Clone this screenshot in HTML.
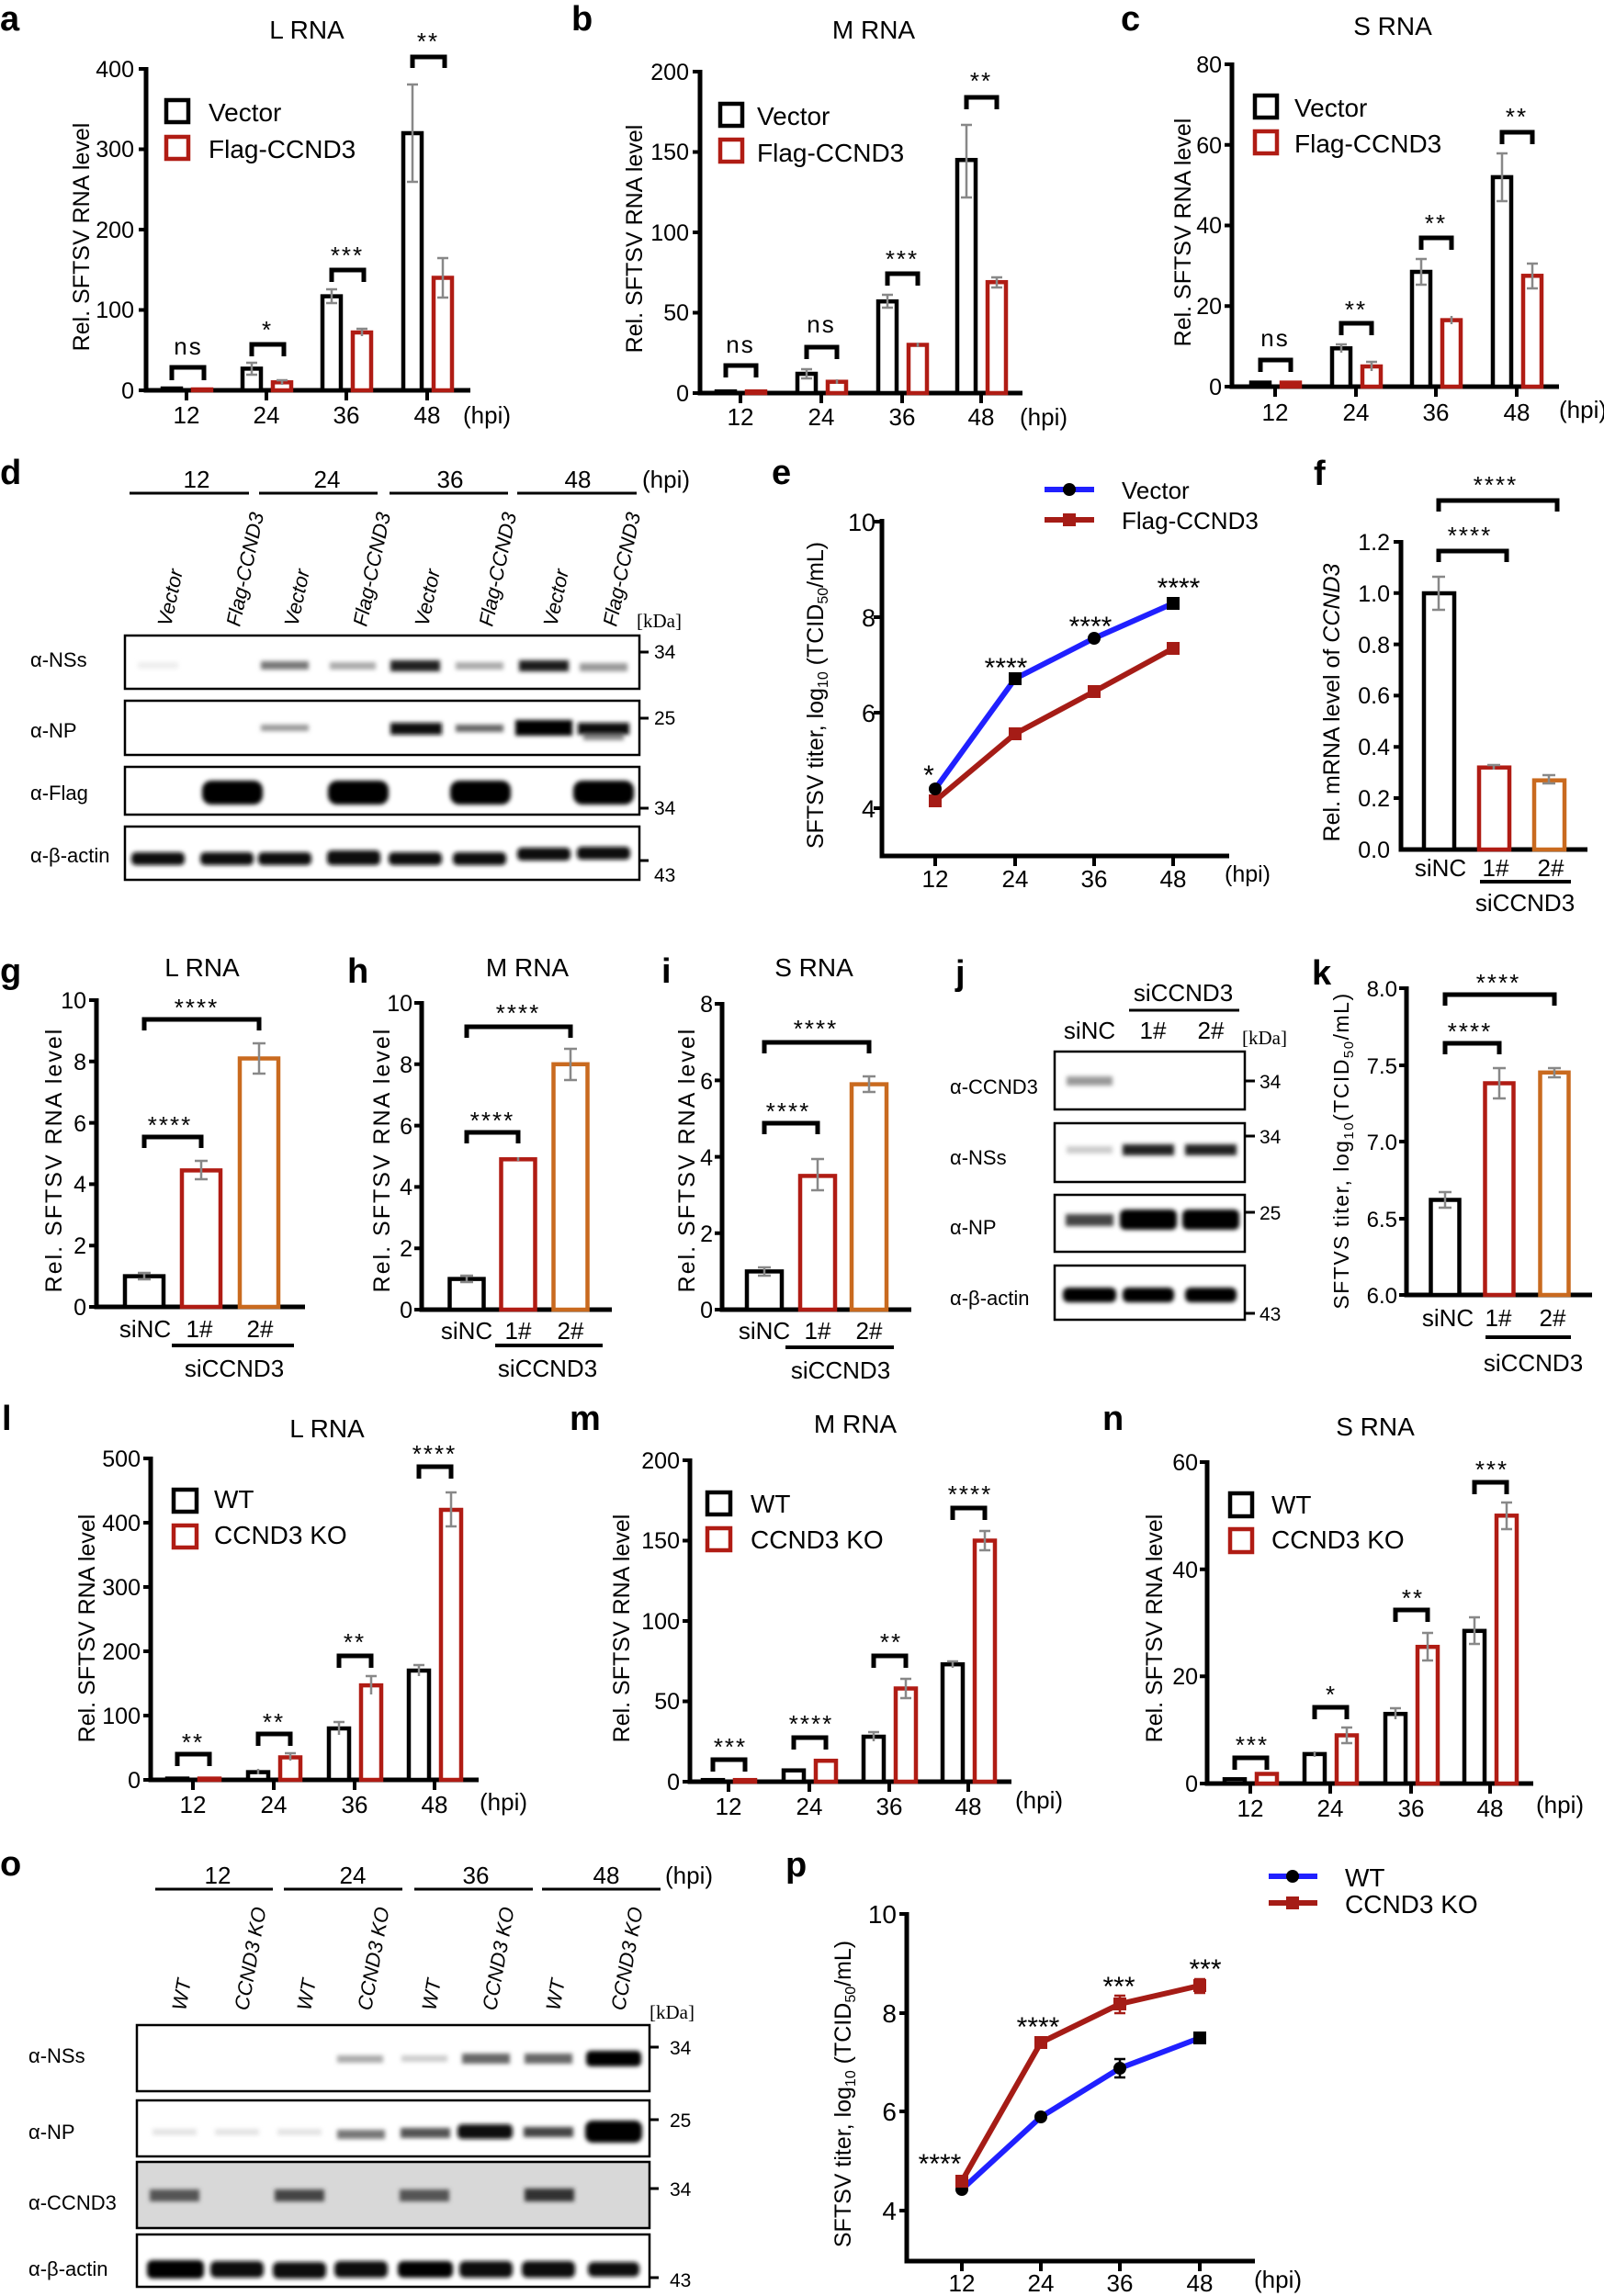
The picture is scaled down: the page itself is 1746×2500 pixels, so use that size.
<!DOCTYPE html>
<html><head><meta charset="utf-8"><style>
html,body{margin:0;padding:0;background:#fff}
svg{display:block}
text{font-family:"Liberation Sans",sans-serif;fill:#000}
.n{font-family:"Liberation Sans Narrow","Liberation Sans",sans-serif}
.s{font-family:"Liberation Serif",serif;font-size:21px}
.L{font-weight:bold;font-size:38px}
.ax{stroke:#000;stroke-width:5;fill:none}
.tk{stroke:#000;stroke-width:4;fill:none}
.bk{fill:#fff;stroke:#000;stroke-width:4.5}
.rd{fill:#fff;stroke:#b01c14;stroke-width:4.5}
.or{fill:#fff;stroke:#c96a1f;stroke-width:4.5}
.er{stroke:#888;stroke-width:2.5;fill:none}
.br{stroke:#000;stroke-width:5;fill:none}
.box{fill:#fff;stroke:#000;stroke-width:2.5}
.t22{font-size:25px}.t24{font-size:26px}.t26{font-size:28px}
.st{font-size:26px;letter-spacing:2px}
.lg{font-size:28px}
.lane{font-size:22px;font-style:italic}
.wl{font-size:22px}
</style></head><body>
<svg width="1746" height="2500" viewBox="0 0 1746 2500" xmlns="http://www.w3.org/2000/svg">
<defs><filter id="bl" x="-30%" y="-100%" width="160%" height="300%"><feGaussianBlur stdDeviation="2.5"/></filter></defs>

<!-- ===== a ===== -->
<text class="L" x="0" y="33">a</text>
<text class="n t26" x="334" y="42" text-anchor="middle">L RNA</text>
<path class="ax" d="M159 73V425H512"/>
<path class="tk" d="M151 75H159M151 162.5H159M151 250H159M151 337.5H159M151 425H159M203 425V436M290 425V436M377 425V436M465 425V436"/>
<g class="n t22" text-anchor="end"><text x="146" y="84">400</text><text x="146" y="171">300</text><text x="146" y="259">200</text><text x="146" y="346">100</text><text x="146" y="434">0</text></g>
<g class="n t24" text-anchor="middle"><text x="203" y="461">12</text><text x="290" y="461">24</text><text x="377" y="461">36</text><text x="465" y="461">48</text></g>
<text class="n t24" x="504" y="461">(hpi)</text>
<rect class="bk" x="177" y="423" width="20" height="2"/><rect class="rd" x="210" y="424" width="20" height="1"/>
<rect class="bk" x="264" y="401.4" width="20" height="23.6"/><rect class="rd" x="297" y="416.3" width="20" height="8.7"/>
<rect class="bk" x="351" y="322.6" width="20" height="102.4"/><rect class="rd" x="384" y="362" width="20" height="63"/>
<rect class="bk" x="439" y="145" width="20" height="280"/><rect class="rd" x="472" y="302.5" width="20" height="122.5"/>
<path class="er" d="M274 395V408M268 395H280M268 408H280M307 414V419M301 414H313M361 315V330M355 315H367M355 330H367M394 358V366M388 358H400M449 92V198M443 92H455M443 198H455M482 281V324M476 281H488M476 324H488"/>
<path class="br" d="M187 414V400H222V414M274 388V375H309V388M361 307V294H396V307M449 74V62H484V74"/>
<g class="st" text-anchor="middle"><text x="205" y="386" class="n">ns</text><text x="291" y="368">*</text><text x="378" y="287">***</text><text x="466" y="54">**</text></g>
<rect class="bk" x="181" y="109" width="24" height="24"/><rect class="rd" x="181" y="149" width="24" height="24"/>
<text class="n lg" x="227" y="132">Vector</text><text class="n lg" x="227" y="172">Flag-CCND3</text>
<text class="t22" transform="translate(97,258) rotate(-90)" text-anchor="middle">Rel. SFTSV RNA level</text>

<!-- ===== b ===== -->
<text class="L" x="622" y="33">b</text>
<text class="n t26" x="951" y="42" text-anchor="middle">M RNA</text>
<path class="ax" d="M762 76V428H1113"/>
<path class="tk" d="M754 78H762M754 165.5H762M754 253H762M754 340.5H762M754 428H762M806 428V439M894 428V439M982 428V439M1068 428V439"/>
<g class="n t22" text-anchor="end"><text x="750" y="87">200</text><text x="750" y="174">150</text><text x="750" y="262">100</text><text x="750" y="349">50</text><text x="750" y="437">0</text></g>
<g class="n t24" text-anchor="middle"><text x="806" y="463">12</text><text x="894" y="463">24</text><text x="982" y="463">36</text><text x="1068" y="463">48</text></g>
<text class="n t24" x="1110" y="463">(hpi)</text>
<rect class="bk" x="780" y="426.2" width="20" height="1.8"/><rect class="rd" x="813" y="426.2" width="20" height="1.8"/>
<rect class="bk" x="868" y="407" width="20" height="21"/><rect class="rd" x="901" y="415.7" width="20" height="12.3"/>
<rect class="bk" x="956" y="328.2" width="20" height="99.8"/><rect class="rd" x="989" y="375.5" width="20" height="52.5"/>
<rect class="bk" x="1042" y="174.2" width="20" height="253.8"/><rect class="rd" x="1075" y="307.2" width="20" height="120.8"/>
<path class="er" d="M878 402V412M872 402H884M872 412H884M911 413V418M966 321V335M960 321H972M960 335H972M999 373V378M1052 136V215M1046 136H1058M1046 215H1058M1085 302V313M1079 302H1091M1079 313H1091"/>
<path class="br" d="M790 411V398H823V411M878 391V378H911V391M966 311V298H999V311M1052 119V106H1085V119"/>
<g class="st" text-anchor="middle"><text x="806" y="384" class="n">ns</text><text x="894" y="362" class="n">ns</text><text x="982" y="291">***</text><text x="1068" y="97">**</text></g>
<rect class="bk" x="784" y="113" width="24" height="24"/><rect class="rd" x="784" y="152" width="24" height="24"/>
<text class="n lg" x="824" y="136">Vector</text><text class="n lg" x="824" y="176">Flag-CCND3</text>
<text class="t22" transform="translate(699,260) rotate(-90)" text-anchor="middle">Rel. SFTSV RNA level</text>

<!-- ===== c ===== -->
<text class="L" x="1220" y="33">c</text>
<text class="n t26" x="1516" y="38" text-anchor="middle">S RNA</text>
<path class="ax" d="M1341 68V421H1697"/>
<path class="tk" d="M1333 70H1341M1333 157.75H1341M1333 245.5H1341M1333 333.25H1341M1333 421H1341M1388 421V432M1476 421V432M1563 421V432M1651 421V432"/>
<g class="n t22" text-anchor="end"><text x="1330" y="79">80</text><text x="1330" y="167">60</text><text x="1330" y="254">40</text><text x="1330" y="342">20</text><text x="1330" y="430">0</text></g>
<g class="n t24" text-anchor="middle"><text x="1388" y="458">12</text><text x="1476" y="458">24</text><text x="1563" y="458">36</text><text x="1651" y="458">48</text></g>
<text class="n t24" x="1697" y="455">(hpi)</text>
<rect class="bk" x="1362" y="416.6" width="20" height="4.4"/><rect class="rd" x="1395" y="416.6" width="20" height="4.4"/>
<rect class="bk" x="1450" y="379.3" width="20" height="41.7"/><rect class="rd" x="1483" y="399" width="20" height="22"/>
<rect class="bk" x="1537" y="296" width="20" height="125"/><rect class="rd" x="1570" y="348.6" width="20" height="72.4"/>
<rect class="bk" x="1625" y="192.9" width="20" height="228.1"/><rect class="rd" x="1658" y="300.3" width="20" height="120.7"/>
<path class="er" d="M1460 375V384M1454 375H1466M1493 394V404M1487 394H1499M1547 282V310M1541 282H1553M1541 310H1553M1580 344V353M1635 167V219M1629 167H1641M1629 219H1641M1668 287V314M1662 287H1674M1662 314H1674"/>
<path class="br" d="M1372 405V392H1405V405M1460 365V352H1493V365M1547 272V259H1580V272M1635 157V144H1668V157"/>
<g class="st" text-anchor="middle"><text x="1388" y="377" class="n">ns</text><text x="1476" y="346">**</text><text x="1563" y="252">**</text><text x="1651" y="136">**</text></g>
<rect class="bk" x="1366" y="104" width="24" height="24"/><rect class="rd" x="1366" y="143" width="24" height="24"/>
<text class="n lg" x="1409" y="127">Vector</text><text class="n lg" x="1409" y="166">Flag-CCND3</text>
<text class="t22" transform="translate(1296,253) rotate(-90)" text-anchor="middle">Rel. SFTSV RNA level</text>

<!-- ===== d ===== -->
<text class="L" x="0" y="527">d</text>
<path d="M141 537H271M282 537H411M424 537H553M563 537H693" stroke="#000" stroke-width="3"/>
<g class="n t24" text-anchor="middle"><text x="214" y="531">12</text><text x="356" y="531">24</text><text x="490" y="531">36</text><text x="629" y="531">48</text></g>
<text class="n t24" x="699" y="531">(hpi)</text>
<g class="lane">
<text transform="translate(186,683) rotate(-78)">Vector</text>
<text transform="translate(261,683) rotate(-78)">Flag-CCND3</text>
<text transform="translate(324,683) rotate(-78)">Vector</text>
<text transform="translate(399,683) rotate(-78)">Flag-CCND3</text>
<text transform="translate(466,683) rotate(-78)">Vector</text>
<text transform="translate(536,683) rotate(-78)">Flag-CCND3</text>
<text transform="translate(606,683) rotate(-78)">Vector</text>
<text transform="translate(671,683) rotate(-78)">Flag-CCND3</text>
</g>
<rect class="box" x="136" y="692" width="560" height="58"/>
<rect class="box" x="136" y="763" width="560" height="59"/>
<rect class="box" x="136" y="835" width="560" height="52"/>
<rect class="box" x="136" y="900" width="560" height="58"/>
<g filter="url(#bl)">
<rect x="150" y="721" width="44" height="7" fill="#eee"/>
<rect x="284" y="720" width="52" height="9" fill="#777"/>
<rect x="359" y="721" width="50" height="8" fill="#aaa"/>
<rect x="425" y="719" width="54" height="12" fill="#222"/>
<rect x="496" y="721" width="52" height="8" fill="#aaa"/>
<rect x="565" y="719" width="54" height="12" fill="#1a1a1a"/>
<rect x="631" y="722" width="52" height="9" fill="#999"/>
<rect x="284" y="789" width="52" height="7" fill="#999"/>
<rect x="425" y="787" width="56" height="13" fill="#111"/>
<rect x="496" y="789" width="52" height="8" fill="#666"/>
<rect x="561" y="784" width="62" height="17" fill="#000"/>
<rect x="629" y="787" width="56" height="13" fill="#111"/>
<rect x="635" y="800" width="44" height="6" fill="#888"/>
<rect x="220" y="850" width="66" height="26" rx="10" fill="#000"/>
<rect x="357" y="850" width="66" height="26" rx="10" fill="#000"/>
<rect x="490" y="850" width="66" height="26" rx="10" fill="#000"/>
<rect x="624" y="850" width="66" height="26" rx="10" fill="#000"/>
<rect x="143" y="928" width="58" height="14" rx="5" fill="#111"/>
<rect x="218" y="928" width="58" height="14" rx="5" fill="#111"/>
<rect x="281" y="928" width="58" height="14" rx="5" fill="#111"/>
<rect x="356" y="926" width="58" height="16" rx="5" fill="#111"/>
<rect x="423" y="928" width="58" height="14" rx="5" fill="#111"/>
<rect x="493" y="928" width="58" height="14" rx="5" fill="#111"/>
<rect x="563" y="923" width="58" height="14" rx="5" fill="#111"/>
<rect x="628" y="922" width="58" height="14" rx="5" fill="#111"/>
</g>
<g class="wl"><text x="33" y="726">α-NSs</text><text x="33" y="803">α-NP</text><text x="33" y="871">α-Flag</text><text x="33" y="939">α-β-actin</text></g>
<text class="s" x="693" y="683">[kDa]</text>
<path d="M696 710H706M696 782H706M696 880H706M696 937H706" stroke="#000" stroke-width="3"/>
<g class="s"><text x="712" y="717">34</text><text x="712" y="789">25</text><text x="712" y="887">34</text><text x="712" y="960">43</text></g>

<!-- ===== e ===== -->
<text class="L" x="840" y="527">e</text>
<path class="ax" d="M960 565V932H1338"/>
<path class="tk" d="M951 568H960M951 672H960M951 776H960M951 880H960M1018 932V943M1105 932V943M1191 932V943M1277 932V943"/>
<g font-size="27" text-anchor="end"><text x="953" y="578">10</text><text x="953" y="682">8</text><text x="953" y="786">6</text><text x="953" y="890">4</text></g>
<g font-size="26" text-anchor="middle"><text x="1018" y="966">12</text><text x="1105" y="966">24</text><text x="1191" y="966">36</text><text x="1277" y="966">48</text></g>
<text font-size="25" x="1333" y="960">(hpi)</text>
<polyline points="1018,872 1105,799 1191,753 1277,706" fill="none" stroke="#a51c16" stroke-width="6"/>
<polyline points="1018,859 1105,739 1191,695 1277,657" fill="none" stroke="#2020ff" stroke-width="6"/>
<g fill="#a51c16"><rect x="1011" y="865" width="14" height="14"/><rect x="1098" y="792" width="14" height="14"/><rect x="1184" y="746" width="14" height="14"/><rect x="1270" y="699" width="14" height="14"/></g>
<circle cx="1018" cy="859" r="7"/><rect x="1098" y="732" width="14" height="14"/><circle cx="1191" cy="695" r="7"/><rect x="1270" y="650" width="14" height="14"/>
<g font-size="30" text-anchor="middle"><text x="1011" y="854">*</text><text x="1095" y="737">****</text><text x="1187" y="692">****</text><text x="1283" y="650">****</text></g>
<path d="M1137 533H1191" stroke="#2020ff" stroke-width="6"/><circle cx="1164" cy="533" r="7"/>
<path d="M1137 566H1191" stroke="#a51c16" stroke-width="6"/><rect x="1157" y="559" width="14" height="14" fill="#a51c16"/>
<text font-size="26" x="1221" y="543">Vector</text><text font-size="26" x="1221" y="576">Flag-CCND3</text>
<text font-size="25" transform="translate(896,757) rotate(-90)" text-anchor="middle">SFTSV titer, log<tspan font-size="16" dy="5">10</tspan><tspan dy="-5"> (TCID</tspan><tspan font-size="16" dy="5">50</tspan><tspan dy="-5">/mL)</tspan></text>

<!-- ===== f ===== -->
<text class="L" x="1430" y="528">f</text>
<path class="ax" d="M1525 588V925H1728"/>
<path class="tk" d="M1517 590H1525M1517 645.8H1525M1517 701.6H1525M1517 757.4H1525M1517 813.2H1525M1517 869H1525"/>
<g font-size="25" text-anchor="end"><text x="1513" y="599">1.2</text><text x="1513" y="655">1.0</text><text x="1513" y="711">0.8</text><text x="1513" y="766">0.6</text><text x="1513" y="822">0.4</text><text x="1513" y="878">0.2</text><text x="1513" y="934">0.0</text></g>
<rect class="bk" x="1550" y="646" width="33" height="279"/>
<rect class="rd" x="1610" y="835.7" width="33" height="89.3"/>
<rect class="or" x="1670" y="849.7" width="33" height="75.3"/>
<path class="er" d="M1566 628V664M1559 628H1573M1559 664H1573M1626 833V838M1619 833H1633M1686 844V853M1679 844H1693M1679 853H1693"/>
<path class="br" d="M1566 612V600H1640V612M1566 557V545H1695V557"/>
<g class="st" text-anchor="middle" letter-spacing="4"><text x="1600" y="592">****</text><text x="1628" y="537">****</text></g>
<g font-size="26" text-anchor="middle"><text x="1568" y="954">siNC</text><text x="1628" y="954">1#</text><text x="1688" y="954">2#</text><text x="1660" y="992">siCCND3</text></g>
<path d="M1611 960H1710" stroke="#000" stroke-width="4"/>
<text font-size="25" transform="translate(1458,765) rotate(-90)" text-anchor="middle">Rel. mRNA level of <tspan font-style="italic">CCND3</tspan></text>

<!-- ===== g ===== -->
<text class="L" x="0" y="1070">g</text>
<text class="n t26" x="220" y="1063" text-anchor="middle">L RNA</text>
<path class="ax" d="M105 1087V1423H332"/>
<path class="tk" d="M97 1089H105M97 1155.8H105M97 1222.6H105M97 1289.4H105M97 1356.2H105M97 1423H105"/>
<g class="n t22" text-anchor="end"><text x="94" y="1098">10</text><text x="94" y="1165">8</text><text x="94" y="1232">6</text><text x="94" y="1298">4</text><text x="94" y="1365">2</text><text x="94" y="1432">0</text></g>
<rect class="bk" x="136" y="1389.6" width="42" height="33.4"/><rect class="rd" x="198" y="1274.4" width="42" height="148.6"/><rect class="or" x="261" y="1152.5" width="42" height="270.5"/>
<path class="er" d="M157 1386V1393M150 1386H164M150 1393H164M219 1264V1284M212 1264H226M212 1284H226M282 1136V1169M275 1136H289M275 1169H289"/>
<path class="br" d="M157 1250V1238H219V1250M157 1122V1110H282V1122"/>
<g class="st" text-anchor="middle" letter-spacing="4"><text x="185" y="1234">****</text><text x="214" y="1106">****</text></g>
<g class="n t24" text-anchor="middle"><text x="158" y="1456">siNC</text><text x="217" y="1456">1#</text><text x="283" y="1456">2#</text><text x="255" y="1499">siCCND3</text></g>
<path d="M187 1465H320" stroke="#000" stroke-width="4"/>
<text class="t22" transform="translate(67,1263) rotate(-90)" text-anchor="middle" letter-spacing="2">Rel. SFTSV RNA level</text>

<!-- ===== h ===== -->
<text class="L" x="378" y="1070">h</text>
<text class="n t26" x="574" y="1063" text-anchor="middle">M RNA</text>
<path class="ax" d="M459 1090V1426H666"/>
<path class="tk" d="M451 1092H459M451 1158.8H459M451 1225.6H459M451 1292.4H459M451 1359.2H459M451 1426H459"/>
<g class="n t22" text-anchor="end"><text x="449" y="1101">10</text><text x="449" y="1168">8</text><text x="449" y="1235">6</text><text x="449" y="1301">4</text><text x="449" y="1368">2</text><text x="449" y="1435">0</text></g>
<rect class="bk" x="489.5" y="1392.6" width="37" height="33.4"/><rect class="rd" x="545.5" y="1262.3" width="37" height="163.7"/><rect class="or" x="602.5" y="1158.8" width="37" height="267.2"/>
<path class="er" d="M508 1389V1396M501 1389H515M501 1396H515M564 1260V1264M621 1142V1176M614 1142H628M614 1176H628"/>
<path class="br" d="M508 1245V1233H564V1245M508 1130V1118H621V1130"/>
<g class="st" text-anchor="middle" letter-spacing="4"><text x="536" y="1229">****</text><text x="564" y="1112">****</text></g>
<g class="n t24" text-anchor="middle"><text x="508" y="1458">siNC</text><text x="564" y="1458">1#</text><text x="621" y="1458">2#</text><text x="596" y="1499">siCCND3</text></g>
<path d="M539 1465H656" stroke="#000" stroke-width="4"/>
<text class="t22" transform="translate(424,1263) rotate(-90)" text-anchor="middle" letter-spacing="2">Rel. SFTSV RNA level</text>

<!-- ===== i ===== -->
<text class="L" x="720" y="1070">i</text>
<text class="n t26" x="886" y="1063" text-anchor="middle">S RNA</text>
<path class="ax" d="M786 1091V1426H992"/>
<path class="tk" d="M778 1093H786M778 1176.4H786M778 1259.6H786M778 1342.8H786M778 1426H786"/>
<g class="n t22" text-anchor="end"><text x="776" y="1102">8</text><text x="776" y="1186">6</text><text x="776" y="1269">4</text><text x="776" y="1352">2</text><text x="776" y="1435">0</text></g>
<rect class="bk" x="813" y="1384.4" width="38" height="41.6"/><rect class="rd" x="871" y="1280.4" width="38" height="145.6"/><rect class="or" x="927" y="1180.6" width="38" height="245.4"/>
<path class="er" d="M832 1380V1389M825 1380H839M825 1389H839M890 1262V1296M883 1262H897M883 1296H897M946 1172V1189M939 1172H953M939 1189H953"/>
<path class="br" d="M832 1235V1223H890V1235M832 1147V1135H946V1147"/>
<g class="st" text-anchor="middle" letter-spacing="4"><text x="858" y="1219">****</text><text x="888" y="1129">****</text></g>
<g class="n t24" text-anchor="middle"><text x="832" y="1458">siNC</text><text x="890" y="1458">1#</text><text x="946" y="1458">2#</text><text x="915" y="1501">siCCND3</text></g>
<path d="M855 1467H973" stroke="#000" stroke-width="4"/>
<text class="t22" transform="translate(756,1263) rotate(-90)" text-anchor="middle" letter-spacing="2">Rel. SFTSV RNA level</text>

<!-- ===== j ===== -->
<text class="L" x="1040" y="1072">j</text>
<text class="n t24" x="1288" y="1090" text-anchor="middle">siCCND3</text>
<path d="M1229 1100H1349" stroke="#000" stroke-width="3"/>
<g class="n t24" text-anchor="middle"><text x="1186" y="1131">siNC</text><text x="1255" y="1131">1#</text><text x="1318" y="1131">2#</text></g>
<text class="s" font-size="22" x="1352" y="1137">[kDa]</text>
<rect class="box" x="1148" y="1145" width="207" height="63"/>
<rect class="box" x="1148" y="1223" width="207" height="64"/>
<rect class="box" x="1148" y="1301" width="207" height="62"/>
<rect class="box" x="1148" y="1378" width="207" height="59"/>
<g filter="url(#bl)">
<rect x="1161" y="1172" width="50" height="10" fill="#999"/>
<rect x="1161" y="1248" width="50" height="8" fill="#ccc"/>
<rect x="1222" y="1246" width="56" height="12" fill="#222"/>
<rect x="1290" y="1246" width="56" height="12" fill="#222"/>
<rect x="1160" y="1322" width="52" height="13" fill="#444"/>
<rect x="1219" y="1317" width="62" height="22" rx="6" fill="#000"/>
<rect x="1287" y="1317" width="62" height="22" rx="6" fill="#000"/>
<rect x="1157" y="1402" width="58" height="16" rx="6" fill="#000"/>
<rect x="1222" y="1402" width="56" height="16" rx="6" fill="#000"/>
<rect x="1290" y="1402" width="56" height="16" rx="6" fill="#000"/>
</g>
<g class="wl"><text x="1034" y="1191">α-CCND3</text><text x="1034" y="1268">α-NSs</text><text x="1034" y="1344">α-NP</text><text x="1034" y="1421">α-β-actin</text></g>
<path d="M1355 1177H1366M1355 1237H1366M1355 1320H1366M1355 1430H1366" stroke="#000" stroke-width="3"/>
<g class="s" font-size="22"><text x="1371" y="1185">34</text><text x="1371" y="1245">34</text><text x="1371" y="1328">25</text><text x="1371" y="1438">43</text></g>

<!-- ===== k ===== -->
<text class="L" x="1428" y="1072">k</text>
<path class="ax" d="M1531 1074V1410H1733"/>
<path class="tk" d="M1523 1076H1531M1523 1160H1531M1523 1243H1531M1523 1327H1531M1523 1410H1531"/>
<g font-size="24" text-anchor="end"><text x="1521" y="1085">8.0</text><text x="1521" y="1169">7.5</text><text x="1521" y="1252">7.0</text><text x="1521" y="1336">6.5</text><text x="1521" y="1419">6.0</text></g>
<rect class="bk" x="1557.5" y="1306.5" width="31" height="103.5"/><rect class="rd" x="1616.5" y="1179.5" width="31" height="230.5"/><rect class="or" x="1676.5" y="1167.8" width="31" height="242.2"/>
<path class="er" d="M1573 1298V1315M1566 1298H1580M1566 1315H1580M1632 1163V1196M1625 1163H1639M1625 1196H1639M1692 1163V1173M1685 1163H1699M1685 1173H1699"/>
<path class="br" d="M1573 1148V1136H1632V1148M1573 1095V1083H1692V1095"/>
<g class="st" text-anchor="middle" letter-spacing="4"><text x="1600" y="1132">****</text><text x="1631" y="1079">****</text></g>
<g class="n t24" text-anchor="middle"><text x="1576" y="1444">siNC</text><text x="1631" y="1444">1#</text><text x="1690" y="1444">2#</text><text x="1669" y="1493">siCCND3</text></g>
<path d="M1617 1456H1710" stroke="#000" stroke-width="4"/>
<text font-size="23" transform="translate(1468,1253) rotate(-90)" text-anchor="middle" letter-spacing="1.5">SFTVS titer, log<tspan font-size="15" dy="5">10</tspan><tspan dy="-5">(TCID</tspan><tspan font-size="15" dy="5">50</tspan><tspan dy="-5">/mL)</tspan></text>

<!-- ===== l ===== -->
<text class="L" x="2" y="1557">l</text>
<text class="n t26" x="356" y="1565" text-anchor="middle">L RNA</text>
<path class="ax" d="M164 1586V1938H521"/>
<path class="tk" d="M156 1588H164M156 1658H164M156 1728H164M156 1798H164M156 1868H164M156 1938H164M210 1938V1949M298 1938V1949M386 1938V1949M473 1938V1949"/>
<g class="n t22" text-anchor="end"><text x="153" y="1597">500</text><text x="153" y="1667">400</text><text x="153" y="1737">300</text><text x="153" y="1807">200</text><text x="153" y="1877">100</text><text x="153" y="1947">0</text></g>
<g class="n t24" text-anchor="middle"><text x="210" y="1974">12</text><text x="298" y="1974">24</text><text x="386" y="1974">36</text><text x="473" y="1974">48</text></g>
<text class="n t24" x="522" y="1971">(hpi)</text>
<rect class="bk" x="182" y="1936.6" width="22" height="1.4"/><rect class="rd" x="217" y="1936.6" width="22" height="1.4"/>
<rect class="bk" x="270" y="1929.6" width="22" height="8.4"/><rect class="rd" x="305" y="1913.5" width="22" height="24.5"/>
<rect class="bk" x="358" y="1882" width="22" height="56"/><rect class="rd" x="393" y="1835.1" width="22" height="102.9"/>
<rect class="bk" x="445" y="1819" width="22" height="119"/><rect class="rd" x="480" y="1644" width="22" height="294"/>
<path class="er" d="M281 1926V1932M369 1875V1889M363 1875H375M456 1813V1825M450 1813H462M316 1909V1917M310 1909H322M404 1825V1845M398 1825H410M491 1625V1662M485 1625H497M485 1662H497"/>
<path class="br" d="M193 1923V1910H228V1923M281 1901V1888H316V1901M369 1816V1803H404V1816M456 1610V1597H491V1610"/>
<g class="st" text-anchor="middle" letter-spacing="3"><text x="210" y="1906">**</text><text x="298" y="1884">**</text><text x="386" y="1797">**</text><text x="473" y="1592">****</text></g>
<rect class="bk" x="189" y="1622" width="25" height="24"/><rect class="rd" x="189" y="1661" width="25" height="24"/>
<text class="n lg" x="233" y="1642">WT</text><text class="n lg" x="233" y="1681">CCND3 KO</text>
<text class="t22" transform="translate(103,1773) rotate(-90)" text-anchor="middle">Rel. SFTSV RNA level</text>

<!-- ===== m ===== -->
<text class="L" x="620" y="1557">m</text>
<text class="n t26" x="931" y="1560" text-anchor="middle">M RNA</text>
<path class="ax" d="M751 1588V1940H1101"/>
<path class="tk" d="M743 1590H751M743 1677.5H751M743 1765H751M743 1852.5H751M743 1940H751M793 1940V1951M881 1940V1951M968 1940V1951M1054 1940V1951"/>
<g class="n t22" text-anchor="end"><text x="740" y="1599">200</text><text x="740" y="1686">150</text><text x="740" y="1774">100</text><text x="740" y="1861">50</text><text x="740" y="1949">0</text></g>
<g class="n t24" text-anchor="middle"><text x="793" y="1976">12</text><text x="881" y="1976">24</text><text x="968" y="1976">36</text><text x="1054" y="1976">48</text></g>
<text class="n t24" x="1105" y="1969">(hpi)</text>
<rect class="bk" x="765" y="1938.2" width="22" height="1.8"/><rect class="rd" x="800" y="1938.2" width="22" height="1.8"/>
<rect class="bk" x="853" y="1927.7" width="22" height="12.3"/><rect class="rd" x="888" y="1917.2" width="22" height="22.8"/>
<rect class="bk" x="940" y="1891" width="22" height="49"/><rect class="rd" x="975" y="1838.5" width="22" height="101.5"/>
<rect class="bk" x="1026" y="1812.2" width="22" height="127.8"/><rect class="rd" x="1061" y="1677.5" width="22" height="262.5"/>
<path class="er" d="M951 1886V1896M945 1886H957M1037 1809V1816M1031 1809H1043M986 1828V1849M980 1828H992M980 1849H992M1072 1667V1688M1066 1667H1078M1066 1688H1078"/>
<path class="br" d="M776 1929V1916H811V1929M864 1905V1892H899V1905M951 1816V1803H986V1816M1037 1655V1642H1072V1655"/>
<g class="st" text-anchor="middle" letter-spacing="3"><text x="795" y="1911">***</text><text x="883" y="1886">****</text><text x="970" y="1797">**</text><text x="1056" y="1636">****</text></g>
<rect class="bk" x="770" y="1625" width="25" height="24"/><rect class="rd" x="770" y="1664" width="25" height="24"/>
<text class="n lg" x="817" y="1647">WT</text><text class="n lg" x="817" y="1686">CCND3 KO</text>
<text class="t22" transform="translate(685,1773) rotate(-90)" text-anchor="middle">Rel. SFTSV RNA level</text>

<!-- ===== n ===== -->
<text class="L" x="1200" y="1557">n</text>
<text class="n t26" x="1497" y="1563" text-anchor="middle">S RNA</text>
<path class="ax" d="M1314 1590V1942H1669"/>
<path class="tk" d="M1306 1592H1314M1306 1708.7H1314M1306 1825.3H1314M1306 1942H1314M1361 1942V1953M1448 1942V1953M1536 1942V1953M1622 1942V1953"/>
<g class="n t22" text-anchor="end"><text x="1304" y="1601">60</text><text x="1304" y="1718">40</text><text x="1304" y="1834">20</text><text x="1304" y="1951">0</text></g>
<g class="n t24" text-anchor="middle"><text x="1361" y="1978">12</text><text x="1448" y="1978">24</text><text x="1536" y="1978">36</text><text x="1622" y="1978">48</text></g>
<text class="n t24" x="1672" y="1974">(hpi)</text>
<rect class="bk" x="1333" y="1937.3" width="22" height="4.7"/><rect class="rd" x="1368" y="1931.5" width="22" height="10.5"/>
<rect class="bk" x="1420" y="1909.9" width="22" height="32.1"/><rect class="rd" x="1455" y="1889.5" width="22" height="52.5"/>
<rect class="bk" x="1508" y="1866.2" width="22" height="75.8"/><rect class="rd" x="1543" y="1793.2" width="22" height="148.8"/>
<rect class="bk" x="1594" y="1775.8" width="22" height="166.2"/><rect class="rd" x="1629" y="1650.3" width="22" height="291.7"/>
<path class="er" d="M1431 1907V1913M1519 1860V1872M1513 1860H1525M1605 1761V1790M1599 1761H1611M1599 1790H1611M1466 1881V1898M1460 1881H1472M1460 1898H1472M1554 1778V1808M1548 1778H1560M1548 1808H1560M1640 1636V1665M1634 1636H1646M1634 1665H1646"/>
<path class="br" d="M1344 1927V1914H1379V1927M1431 1872V1859H1466V1872M1519 1766V1753H1554V1766M1605 1627V1614H1640V1627"/>
<g class="st" text-anchor="middle" letter-spacing="3"><text x="1363" y="1909">***</text><text x="1449" y="1854">*</text><text x="1538" y="1749">**</text><text x="1624" y="1609">***</text></g>
<rect class="bk" x="1339" y="1626" width="24" height="25"/><rect class="rd" x="1339" y="1665" width="24" height="25"/>
<text class="n lg" x="1384" y="1648">WT</text><text class="n lg" x="1384" y="1686">CCND3 KO</text>
<text class="t22" transform="translate(1265,1773) rotate(-90)" text-anchor="middle">Rel. SFTSV RNA level</text>

<!-- ===== o ===== -->
<text class="L" x="0" y="2042">o</text>
<path d="M169 2057H297M309 2057H438M451 2057H580M590 2057H719" stroke="#000" stroke-width="3"/>
<g class="n t24" text-anchor="middle"><text x="237" y="2051">12</text><text x="384" y="2051">24</text><text x="518" y="2051">36</text><text x="660" y="2051">48</text></g>
<text class="n t24" x="724" y="2051">(hpi)</text>
<g class="lane">
<text transform="translate(202,2190) rotate(-80)">WT</text>
<text transform="translate(270,2190) rotate(-80)">CCND3 KO</text>
<text transform="translate(338,2190) rotate(-80)">WT</text>
<text transform="translate(404,2190) rotate(-80)">CCND3 KO</text>
<text transform="translate(474,2190) rotate(-80)">WT</text>
<text transform="translate(540,2190) rotate(-80)">CCND3 KO</text>
<text transform="translate(609,2190) rotate(-80)">WT</text>
<text transform="translate(680,2190) rotate(-80)">CCND3 KO</text>
</g>
<rect class="box" x="149" y="2205" width="558" height="72"/>
<rect class="box" x="149" y="2287" width="558" height="61"/>
<rect class="box" x="149" y="2354" width="558" height="72" style="fill:#d8d8d8"/>
<rect class="box" x="149" y="2433" width="558" height="57"/>
<g filter="url(#bl)">
<rect x="367" y="2238" width="50" height="8" fill="#aaa"/>
<rect x="437" y="2238" width="50" height="7" fill="#ccc"/>
<rect x="503" y="2236" width="52" height="11" fill="#666"/>
<rect x="571" y="2236" width="52" height="11" fill="#666"/>
<rect x="638" y="2233" width="60" height="17" rx="5" fill="#000"/>
<rect x="166" y="2318" width="48" height="7" fill="#e4e4e4"/>
<rect x="234" y="2318" width="48" height="7" fill="#e4e4e4"/>
<rect x="302" y="2318" width="48" height="7" fill="#e4e4e4"/>
<rect x="367" y="2319" width="52" height="10" fill="#777"/>
<rect x="436" y="2317" width="54" height="11" fill="#555"/>
<rect x="498" y="2313" width="60" height="16" rx="5" fill="#111"/>
<rect x="570" y="2316" width="54" height="11" fill="#444"/>
<rect x="637" y="2309" width="62" height="24" rx="8" fill="#000"/>
<rect x="163" y="2384" width="54" height="13" fill="#555"/>
<rect x="299" y="2384" width="54" height="13" fill="#444"/>
<rect x="435" y="2384" width="54" height="13" fill="#555"/>
<rect x="571" y="2383" width="54" height="14" fill="#333"/>
<rect x="160" y="2461" width="62" height="20" rx="6" fill="#000"/>
<rect x="229" y="2462" width="58" height="18" rx="6" fill="#111"/>
<rect x="297" y="2463" width="58" height="18" rx="6" fill="#111"/>
<rect x="364" y="2462" width="58" height="18" rx="6" fill="#111"/>
<rect x="433" y="2462" width="60" height="18" rx="6" fill="#000"/>
<rect x="500" y="2462" width="58" height="18" rx="6" fill="#111"/>
<rect x="568" y="2462" width="58" height="18" rx="6" fill="#111"/>
<rect x="640" y="2463" width="56" height="16" rx="6" fill="#111"/>
</g>
<g class="wl"><text x="31" y="2246">α-NSs</text><text x="31" y="2329">α-NP</text><text x="31" y="2406">α-CCND3</text><text x="31" y="2478">α-β-actin</text></g>
<text class="s" x="707" y="2198">[kDa]</text>
<path d="M707 2229H717M707 2308H717M707 2383H717M707 2480H717" stroke="#000" stroke-width="3"/>
<g class="s"><text x="729" y="2237">34</text><text x="729" y="2316">25</text><text x="729" y="2391">34</text><text x="729" y="2490">43</text></g>

<!-- ===== p ===== -->
<text class="L" x="855" y="2043">p</text>
<path class="ax" d="M987 2082V2462H1366"/>
<path class="tk" d="M979 2084H987M979 2192H987M979 2299H987M979 2407H987M1047 2462V2473M1133 2462V2473M1219 2462V2473M1306 2462V2473"/>
<g class="n t26" text-anchor="end"><text x="976" y="2094">10</text><text x="976" y="2202">8</text><text x="976" y="2309">6</text><text x="976" y="2417">4</text></g>
<g class="n t24" text-anchor="middle"><text x="1047" y="2495">12</text><text x="1133" y="2495">24</text><text x="1219" y="2495">36</text><text x="1306" y="2495">48</text></g>
<text class="n t24" x="1365" y="2491">(hpi)</text>
<polyline points="1047,2384 1133,2305 1219,2252 1306,2219" fill="none" stroke="#2020ff" stroke-width="6"/>
<polyline points="1047,2375 1133,2224 1219,2182 1306,2162" fill="none" stroke="#a51c16" stroke-width="6"/>
<path d="M1219 2242V2262M1213 2242H1225M1213 2262H1225" stroke="#000" stroke-width="2.5"/>
<path d="M1219 2173V2192M1213 2173H1225M1213 2192H1225M1306 2155V2170M1300 2155H1312M1300 2170H1312" stroke="#a51c16" stroke-width="2.5"/>
<circle cx="1047" cy="2384" r="7"/><circle cx="1133" cy="2305" r="7"/><circle cx="1219" cy="2252" r="7"/><rect x="1299" y="2212" width="14" height="14"/>
<g fill="#a51c16"><rect x="1040" y="2368" width="14" height="14"/><rect x="1126" y="2217" width="14" height="14"/><rect x="1212" y="2175" width="14" height="14"/><rect x="1299" y="2155" width="14" height="14"/></g>
<g font-size="30" text-anchor="middle"><text x="1023" y="2366">****</text><text x="1130" y="2217">****</text><text x="1218" y="2173">***</text><text x="1312" y="2154">***</text></g>
<path d="M1381 2043H1434" stroke="#2020ff" stroke-width="6"/><circle cx="1407" cy="2043" r="7"/>
<path d="M1381 2072H1434" stroke="#a51c16" stroke-width="6"/><rect x="1400" y="2065" width="14" height="14" fill="#a51c16"/>
<text class="n lg" x="1464" y="2054">WT</text><text class="n lg" x="1464" y="2083">CCND3 KO</text>
<text font-size="25" transform="translate(926,2280) rotate(-90)" text-anchor="middle">SFTSV titer, log<tspan font-size="16" dy="5">10</tspan><tspan dy="-5"> (TCID</tspan><tspan font-size="16" dy="5">50</tspan><tspan dy="-5">/mL)</tspan></text>
</svg>
</body></html>
